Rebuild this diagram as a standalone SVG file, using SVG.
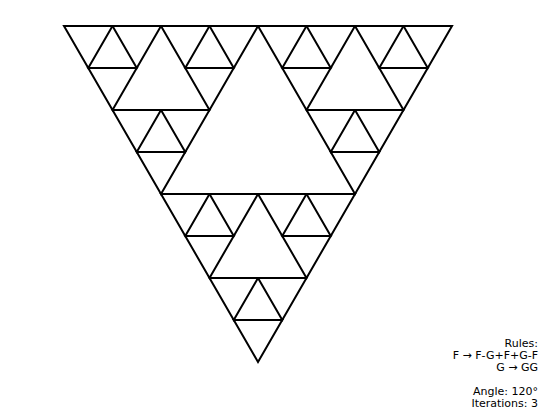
<svg xmlns="http://www.w3.org/2000/svg" xmlns:xlink="http://www.w3.org/1999/xlink" width="548" height="418" viewBox="0 0 548 418">
<style>
.tri{fill:none;stroke:#000;stroke-width:2;stroke-linejoin:miter}
.lbl{font-family:"DejaVu Sans",sans-serif;font-size:11px;fill:#000;text-anchor:end}
</style>
<defs>
<path id="t" class="tri" d="M0 0 h48.5 l-24.25 42 z"/>
</defs>
<rect width="548" height="418" fill="#fff"/>
<g id="sierpinski">
<use xlink:href="#t" href="#t" x="64" y="26"/>
<use xlink:href="#t" href="#t" x="112.5" y="26"/>
<use xlink:href="#t" href="#t" x="88.25" y="68"/>
<use xlink:href="#t" href="#t" x="161" y="26"/>
<use xlink:href="#t" href="#t" x="209.5" y="26"/>
<use xlink:href="#t" href="#t" x="185.25" y="68"/>
<use xlink:href="#t" href="#t" x="112.5" y="110"/>
<use xlink:href="#t" href="#t" x="161" y="110"/>
<use xlink:href="#t" href="#t" x="136.75" y="152"/>
<use xlink:href="#t" href="#t" x="258" y="26"/>
<use xlink:href="#t" href="#t" x="306.5" y="26"/>
<use xlink:href="#t" href="#t" x="282.25" y="68"/>
<use xlink:href="#t" href="#t" x="355" y="26"/>
<use xlink:href="#t" href="#t" x="403.5" y="26"/>
<use xlink:href="#t" href="#t" x="379.25" y="68"/>
<use xlink:href="#t" href="#t" x="306.5" y="110"/>
<use xlink:href="#t" href="#t" x="355" y="110"/>
<use xlink:href="#t" href="#t" x="330.75" y="152"/>
<use xlink:href="#t" href="#t" x="161" y="194"/>
<use xlink:href="#t" href="#t" x="209.5" y="194"/>
<use xlink:href="#t" href="#t" x="185.25" y="236"/>
<use xlink:href="#t" href="#t" x="258" y="194"/>
<use xlink:href="#t" href="#t" x="306.5" y="194"/>
<use xlink:href="#t" href="#t" x="282.25" y="236"/>
<use xlink:href="#t" href="#t" x="209.5" y="278"/>
<use xlink:href="#t" href="#t" x="258" y="278"/>
<use xlink:href="#t" href="#t" x="233.75" y="320"/>
</g>
<g id="legend">
<text class="lbl" x="538" y="347">Rules:</text>
<text class="lbl" x="538" y="359">F → F-G+F+G-F</text>
<text class="lbl" x="538" y="371">G → GG</text>
<text class="lbl" x="538" y="394.5">Angle: 120°</text>
<text class="lbl" x="538" y="406.5">Iterations: 3</text>
</g>
</svg>
